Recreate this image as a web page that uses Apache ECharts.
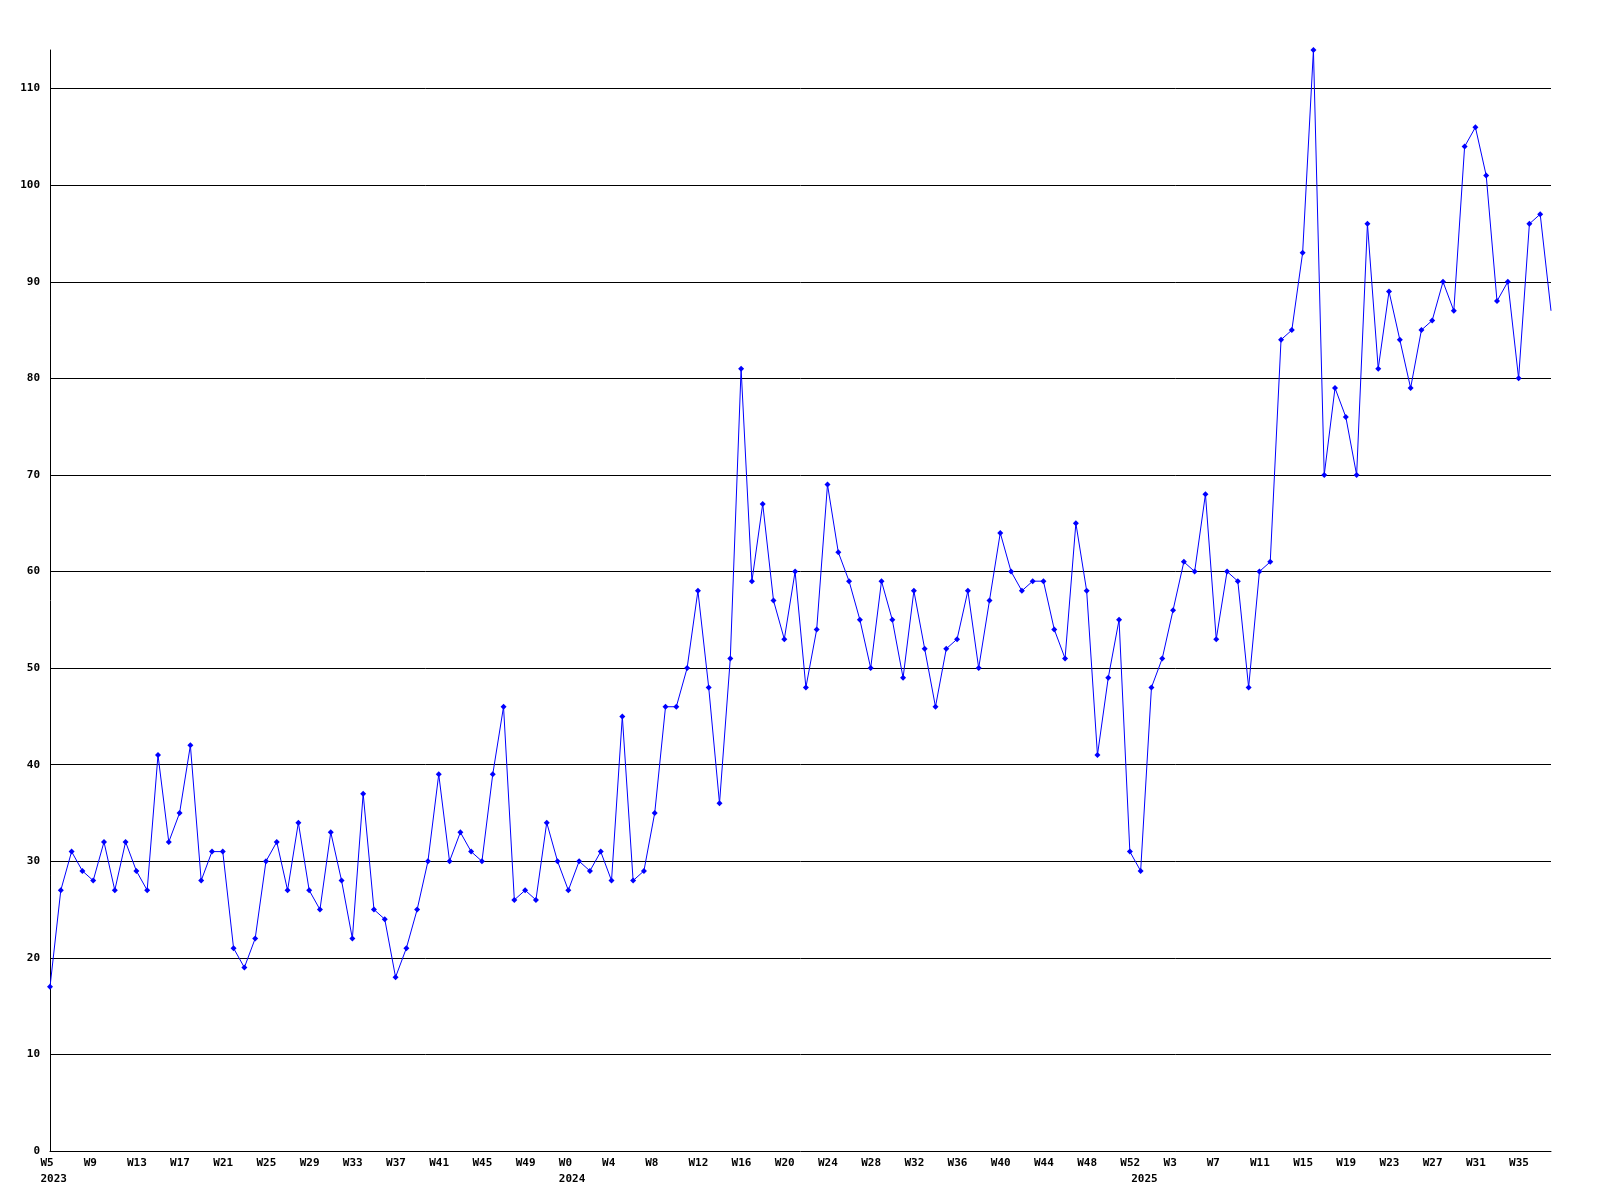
<!DOCTYPE html>
<html>
<head>
<meta charset="utf-8">
<script src="https://cdn.jsdelivr.net/npm/echarts@6/dist/echarts.min.js"></script>
<style>
html,body{margin:0;padding:0;background:#fff;}
#chart{width:1600px;height:1200px;}
</style>
</head>
<body>
<div id="chart"></div>
<script>
// Weekly values, 2023 W5..W52
const weeks2023 = [5,6,7,8,9,10,11,12,13,14,15,16,17,18,19,20,21,22,23,24,25,26,27,28,29,30,31,32,33,34,35,36,37,38,39,40,41,42,43,44,45,46,47,48,49,50,51,52];
const values2023 = [17,27,31,29,28,32,27,32,29,27,41,32,35,42,28,31,31,21,19,22,30,32,27,34,27,25,33,28,22,37,25,24,18,21,25,30,39,30,33,31,30,39,46,26,27,26,34,30];
// 2024 W0..W52
const weeks2024 = [0,1,2,3,4,5,6,7,8,9,10,11,12,13,14,15,16,17,18,19,20,21,22,23,24,25,26,27,28,29,30,31,32,33,34,35,36,37,38,39,40,41,42,43,44,45,46,47,48,49,50,51,52];
const values2024 = [27,30,29,31,28,45,28,29,35,46,46,50,58,48,36,51,81,59,67,57,53,60,48,54,69,62,59,55,50,59,55,49,58,52,46,52,53,58,50,57,64,60,58,59,59,54,51,65,58,41,49,55,31];
// 2025 W0..W38
const weeks2025 = [0,1,2,3,4,5,6,7,8,9,10,11,12,13,14,15,16,17,18,19,20,21,22,23,24,25,26,27,28,29,30,31,32,33,34,35,36,37,38];
const values2025 = [29,48,51,56,61,60,68,53,60,59,48,60,61,84,85,93,114,70,79,76,70,96,81,89,84,79,85,86,90,87,104,106,101,88,90,80,96,97,87];

const yTicks = [0,10,20,30,40,50,60,70,80,90,100,110];
const yMax = 114;
const labelEvery = 4;

const categories = [];
const yearStart = {};
const values = [];
[[2023, weeks2023, values2023],[2024, weeks2024, values2024],[2025, weeks2025, values2025]].forEach(([yr, wk, vals]) => {
  yearStart[categories.length] = yr;
  wk.forEach((w, i) => { categories.push('W' + w); values.push(vals[i]); });
});

const seriesData = values.map((v, i) => i === values.length - 1 ? {value: v, symbol: 'none'} : v);

const font = {fontFamily: 'DejaVu Sans Mono', fontWeight: 'bold', fontSize: 11, color: '#000'};

const chart = echarts.init(document.getElementById('chart'), null, {renderer: 'canvas'});
chart.setOption({
  animation: false,
  backgroundColor: '#fff',
  grid: {left: 50, right: 49, top: 50, bottom: 49, containLabel: false},
  xAxis: {
    type: 'category',
    data: categories,
    boundaryGap: false,
    axisLine: {show: true, lineStyle: {color: '#000', width: 1}},
    axisTick: {show: false},
    splitLine: {show: false},
    axisLabel: Object.assign({}, font, {
      interval: (idx) => idx % labelEvery === 0 || yearStart[idx] !== undefined,
      formatter: (val, idx) => {
        const first = idx % labelEvery === 0 ? '{a|' + val + '}' : '{a| }';
        return yearStart[idx] !== undefined ? first + '\n{a|' + yearStart[idx] + '}' : first;
      },
      align: 'center',
      margin: 4,
      verticalAlign: 'top',
      rich: {
        a: Object.assign({}, font, {width: 19, align: 'left', lineHeight: 16})
      }
    })
  },
  yAxis: {
    type: 'value',
    min: yTicks[0],
    max: yMax,
    interval: yTicks[1] - yTicks[0],
    axisLine: {show: true, lineStyle: {color: '#000', width: 1}},
    axisTick: {show: false},
    splitLine: {show: true, showMinLine: false, showMaxLine: false, lineStyle: {color: '#000', width: 1}},
    axisLabel: Object.assign({}, font, {margin: 10, showMaxLabel: false})
  },
  series: [{
    type: 'line',
    data: seriesData,
    symbol: 'diamond',
    symbolSize: 6,
    showSymbol: true,
    lineStyle: {color: '#0000ff', width: 1},
    itemStyle: {color: '#0000ff'},
    clip: false
  }]
});
</script>
</body>
</html>
